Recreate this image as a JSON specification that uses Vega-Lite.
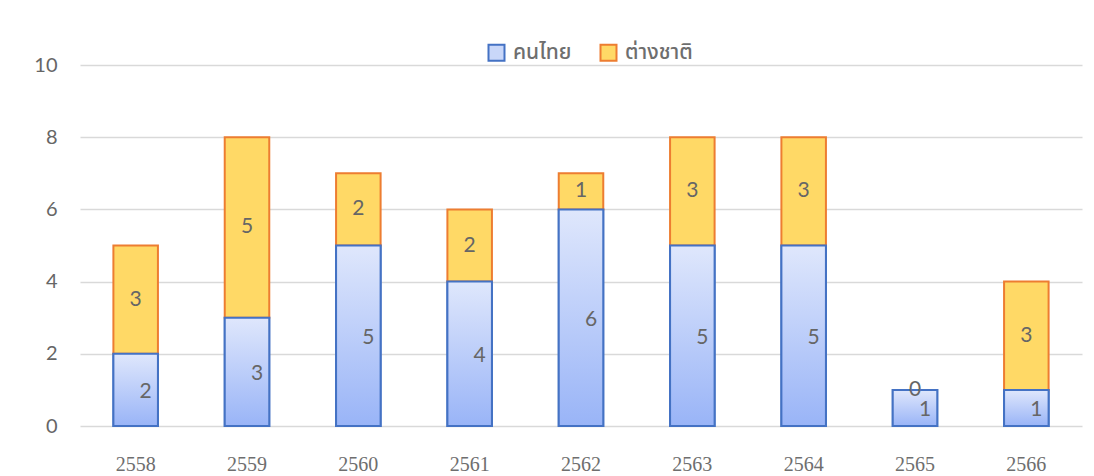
{
  "$schema": "https://vega.github.io/schema/vega-lite/v6.json",
  "width": 1002,
  "height": 361,
  "autosize": {"type": "none"},
  "padding": {"left": 80, "top": 65, "right": 12, "bottom": 50},
  "background": "#ffffff",
  "config": {
    "view": {"stroke": null},
    "axis": {"labelColor": "#595959", "ticks": false, "domain": false}
  },
  "data": {
    "values": [
      {"year": "2558", "series": "คนไทย", "value": 2},
      {"year": "2558", "series": "ต่างชาติ", "value": 3},
      {"year": "2559", "series": "คนไทย", "value": 3},
      {"year": "2559", "series": "ต่างชาติ", "value": 5},
      {"year": "2560", "series": "คนไทย", "value": 5},
      {"year": "2560", "series": "ต่างชาติ", "value": 2},
      {"year": "2561", "series": "คนไทย", "value": 4},
      {"year": "2561", "series": "ต่างชาติ", "value": 2},
      {"year": "2562", "series": "คนไทย", "value": 6},
      {"year": "2562", "series": "ต่างชาติ", "value": 1},
      {"year": "2563", "series": "คนไทย", "value": 5},
      {"year": "2563", "series": "ต่างชาติ", "value": 3},
      {"year": "2564", "series": "คนไทย", "value": 5},
      {"year": "2564", "series": "ต่างชาติ", "value": 3},
      {"year": "2565", "series": "คนไทย", "value": 1},
      {"year": "2565", "series": "ต่างชาติ", "value": 0},
      {"year": "2566", "series": "คนไทย", "value": 1},
      {"year": "2566", "series": "ต่างชาติ", "value": 3}
    ]
  },
  "transform": [
    {
      "stack": "value",
      "groupby": ["year"],
      "sort": [{"field": "series", "order": "ascending"}],
      "as": ["v0", "v1"]
    }
  ],
  "encoding": {
    "x": {
      "field": "year",
      "type": "nominal",
      "sort": null,
      "scale": {"paddingInner": 0.6, "paddingOuter": 0.3},
      "axis": {
        "title": null,
        "labelAngle": 0,
        "labelFont": "Liberation Serif",
        "labelFontSize": 20,
        "labelColor": "#6e6e6e",
        "labelPadding": 28,
        "grid": false
      }
    }
  },
  "layer": [
    {
      "mark": {"type": "bar", "strokeWidth": 2},
      "encoding": {
        "y": {
          "field": "v1",
          "type": "quantitative",
          "scale": {"domain": [0, 10], "nice": false},
          "axis": {
            "title": null,
            "values": [0, 2, 4, 6, 8, 10],
            "grid": true,
            "gridColor": "#d9d9d9",
            "gridWidth": 1.5,
            "labelFont": "Lato",
            "labelFontSize": 20,
            "labelColor": "#666666",
            "labelPadding": 23
          }
        },
        "y2": {"field": "v0"},
        "fill": {
          "field": "series",
          "type": "nominal",
          "scale": {"domain": ["คนไทย", "ต่างชาติ"], "range": ["#c9d7f9", "#ffd966"]},
          "legend": {
            "title": null,
            "orient": "none",
            "direction": "horizontal",
            "legendX": 406,
            "legendY": -23,
            "symbolType": "square",
            "symbolSize": 256,
            "symbolStrokeWidth": 2,
            "labelFont": "Noto Sans Thai, Noto Sans, DejaVu Sans, sans-serif",
            "labelFontSize": 21,
            "labelFontWeight": 500,
            "labelColor": "#6e6e6e",
            "labelOffset": 6,
            "columnPadding": 24
          }
        },
        "stroke": {
          "field": "series",
          "type": "nominal",
          "scale": {"domain": ["คนไทย", "ต่างชาติ"], "range": ["#4472c4", "#ed7d31"]},
          "legend": null
        }
      }
    },
    {
      "transform": [{"filter": "datum.series === 'คนไทย'"}],
      "mark": {
        "type": "bar",
        "strokeWidth": 2,
        "stroke": "#4472c4",
        "fill": {
          "gradient": "linear",
          "x1": 0, "y1": 0, "x2": 0, "y2": 1,
          "stops": [
            {"offset": 0, "color": "#dfe7fc"},
            {"offset": 1, "color": "#99b4f7"}
          ]
        }
      },
      "encoding": {
        "y": {"field": "v1", "type": "quantitative"},
        "y2": {"field": "v0"}
      }
    },
    {
      "transform": [
        {"fold": ["v0", "v1"], "as": ["edge", "pos"]},
        {"aggregate": [{"op": "mean", "field": "pos", "as": "mid"}], "groupby": ["year", "series", "value"]},
        {"filter": "datum.series === 'คนไทย'"}
      ],
      "mark": {"type": "text", "font": "Lato", "fontSize": 21, "color": "#666666", "dx": 10, "dy": 2},
      "encoding": {
        "y": {"field": "mid", "type": "quantitative"},
        "text": {"field": "value", "type": "quantitative"}
      }
    },
    {
      "transform": [
        {"fold": ["v0", "v1"], "as": ["edge", "pos"]},
        {"aggregate": [{"op": "mean", "field": "pos", "as": "mid"}], "groupby": ["year", "series", "value"]},
        {"filter": "datum.series === 'ต่างชาติ'"}
      ],
      "mark": {"type": "text", "font": "Lato", "fontSize": 21, "color": "#666666"},
      "encoding": {
        "y": {"field": "mid", "type": "quantitative"},
        "text": {"field": "value", "type": "quantitative"}
      }
    }
  ]
}
